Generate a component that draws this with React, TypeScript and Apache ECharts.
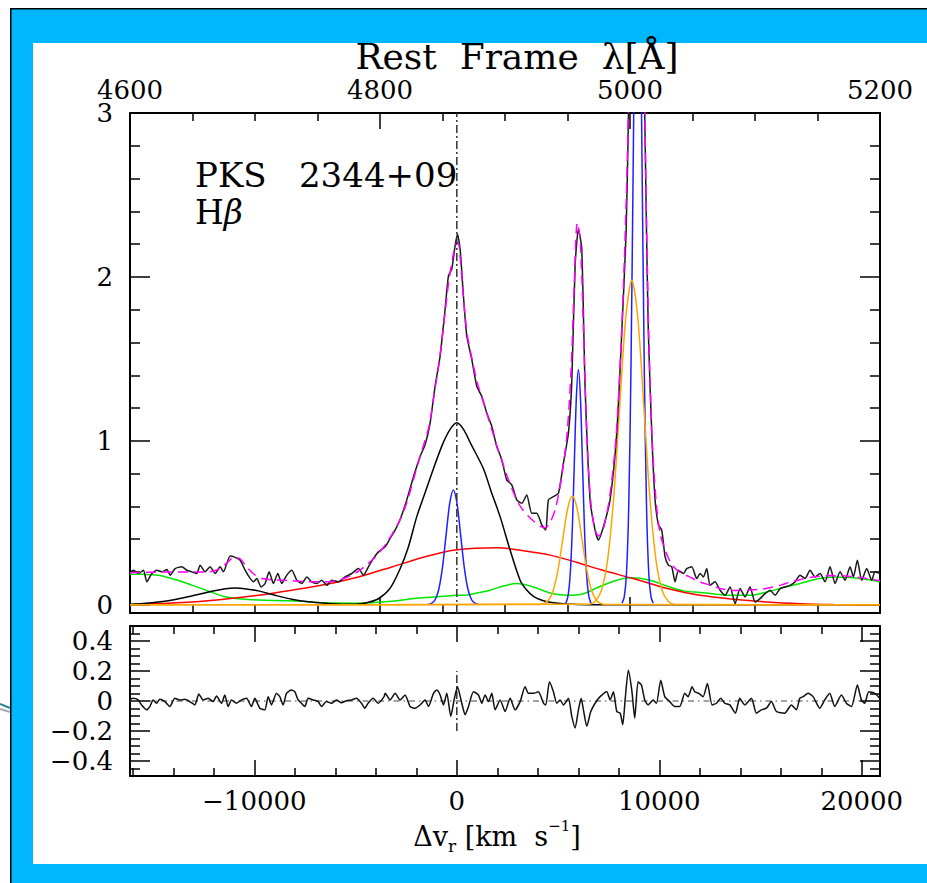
import React, { useEffect, useRef } from "react";
import * as echarts from "echarts";

const FONT = '"DejaVu Serif", serif';
const CYAN = "#00b6fd";

// axis ranges
const V_MIN = -16140;
const V_MAX = 20900;
const W_MIN = 4600;
const W_MAX = 5200;
const F_MIN = -0.05;
const F_MAX = 3;
const R_MIN = -0.5;
const R_MAX = 0.5;

// tick values
const waveMajor = [4600, 4800, 5000, 5200];
const waveMinor = [4650, 4700, 4750, 4850, 4900, 4950, 5050, 5100, 5150];
const fluxMajor = [0, 1, 2, 3];
const fluxMinor = [0.2, 0.4, 0.6, 0.8, 1.2, 1.4, 1.6, 1.8, 2.2, 2.4, 2.6, 2.8];
const velMajor = [-10000, 0, 10000, 20000];
const velMinor = [-16000, -14000, -12000, -8000, -6000, -4000, -2000, 2000, 4000, 6000, 8000, 12000, 14000, 16000, 18000];
const resMajor = [-0.4, -0.2, 0, 0.2, 0.4];
const resMinor = [-0.45, -0.35, -0.3, -0.25, -0.15, -0.1, -0.05, 0.05, 0.1, 0.15, 0.25, 0.3, 0.35, 0.45];

// observed spectrum [velocity km/s, flux]
const spectrum = [
  [-16140, 0.2], [-15969, 0.211], [-15722, 0.191], [-15475, 0.211], [-15310, 0.14], [-15063, 0.191], [-14816, 0.211],
  [-14569, 0.201], [-14323, 0.215], [-14158, 0.181], [-13911, 0.221], [-13582, 0.232], [-13335, 0.211], [-13088, 0.201],
  [-12841, 0.191], [-12677, 0.242], [-12430, 0.201], [-12183, 0.232], [-11936, 0.191], [-11689, 0.232], [-11524, 0.201],
  [-11359, 0.252], [-11195, 0.297], [-10948, 0.289], [-10701, 0.272], [-10454, 0.211], [-10257, 0.17], [-10043, 0.14],
  [-9878, 0.16], [-9664, 0.109], [-9467, 0.13], [-9269, 0.201], [-9055, 0.13], [-8841, 0.191], [-8644, 0.13],
  [-8397, 0.181], [-8150, 0.211], [-7903, 0.15], [-7656, 0.13], [-7409, 0.17], [-7162, 0.14], [-6915, 0.13],
  [-6668, 0.15], [-6421, 0.119], [-6174, 0.15], [-5845, 0.14], [-5516, 0.17], [-5187, 0.191], [-4858, 0.221],
  [-4611, 0.181], [-4364, 0.232], [-4117, 0.283], [-3870, 0.323], [-3539, 0.354], [-3294, 0.405], [-3047, 0.456],
  [-2800, 0.52], [-2471, 0.64], [-2142, 0.78], [-1812, 0.905], [-1565, 0.977], [-1319, 1.109], [-1072, 1.333],
  [-825, 1.517], [-578, 1.803], [-413, 2.007], [-249, 2.048], [-84, 2.191], [31, 2.262], [163, 2.17], [327, 1.884],
  [492, 1.64], [739, 1.497], [986, 1.333], [1233, 1.272], [1480, 1.17], [1727, 1.089], [1973, 0.966], [2220, 0.885],
  [2467, 0.762], [2714, 0.732], [2961, 0.64], [3208, 0.619], [3455, 0.67], [3702, 0.558], [3949, 0.558], [4196, 0.487],
  [4393, 0.456], [4525, 0.64], [4772, 0.66], [5019, 0.68], [5266, 0.864], [5513, 1.048], [5677, 1.354], [5842, 2.068],
  [6006, 2.293], [6171, 2.17], [6335, 1.333], [6582, 0.64], [6829, 0.456], [6994, 0.395], [7241, 0.476], [7570, 0.64],
  [7899, 1.048], [8146, 1.66], [8360, 2.27], [8480, 3.0], [8600, 4.2], [8850, 5.5], [9100, 4.2], [9280, 3.0],
  [9370, 2.27], [9460, 1.66], [9627, 1.048], [9792, 0.64], [9957, 0.487], [10121, 0.456], [10286, 0.293], [10451, 0.242],
  [10615, 0.232], [10780, 0.14], [10944, 0.211], [11191, 0.191], [11356, 0.221], [11603, 0.232], [11849, 0.16],
  [12014, 0.191], [12179, 0.17], [12344, 0.221], [12508, 0.119], [12755, 0.14], [13002, 0.089], [13249, 0.058],
  [13496, 0.109], [13743, 0.007], [13989, 0.099], [14236, 0.048], [14483, 0.109], [14730, 0.017], [14977, 0.038],
  [15224, 0.068], [15471, 0.089], [15718, 0.058], [15965, 0.099], [16212, 0.109], [16459, 0.119], [16705, 0.14],
  [16952, 0.181], [17199, 0.16], [17446, 0.211], [17693, 0.17], [17940, 0.191], [18187, 0.14], [18434, 0.232],
  [18681, 0.13], [18927, 0.201], [19174, 0.15], [19421, 0.232], [19586, 0.17], [19783, 0.272], [19997, 0.15],
  [20244, 0.221], [20491, 0.15], [20656, 0.201], [20900, 0.191],
];

// total model fit (magenta dashed)
const modelFit = [
  [-16140, 0.195], [-15000, 0.199], [-14000, 0.2], [-13000, 0.2], [-12300, 0.2], [-11800, 0.215], [-11400, 0.25],
  [-11000, 0.29], [-10700, 0.28], [-10400, 0.235], [-10000, 0.185], [-9600, 0.16], [-9000, 0.152], [-8300, 0.148],
  [-7500, 0.142], [-6800, 0.14], [-6200, 0.142], [-5700, 0.155], [-5200, 0.18], [-4800, 0.21], [-4400, 0.25],
  [-4000, 0.295], [-3600, 0.355], [-3200, 0.43], [-2800, 0.52], [-2450, 0.63], [-2150, 0.76], [-1850, 0.89],
  [-1600, 0.99], [-1350, 1.1], [-1100, 1.3], [-850, 1.5], [-600, 1.76], [-400, 1.97], [-200, 2.12], [-50, 2.2],
  [60, 2.21], [180, 2.1], [330, 1.87], [500, 1.66], [750, 1.5], [1000, 1.36], [1250, 1.26], [1500, 1.16], [1750, 1.06],
  [2000, 0.96], [2250, 0.87], [2500, 0.78], [2750, 0.7], [3000, 0.63], [3250, 0.58], [3500, 0.545], [3800, 0.51],
  [4100, 0.48], [4350, 0.47], [4600, 0.5], [4900, 0.6], [5200, 0.8], [5450, 1.05], [5650, 1.45], [5800, 1.95],
  [5950, 2.33], [6100, 2.22], [6250, 1.7], [6420, 1.05], [6600, 0.65], [6800, 0.47], [7000, 0.42], [7250, 0.47],
  [7550, 0.66], [7850, 1.0], [8100, 1.55], [8300, 2.2], [8470, 3.0], [8650, 4.6], [8900, 6.0], [9150, 4.4],
  [9290, 3.0], [9380, 2.25], [9500, 1.55], [9650, 1.0], [9850, 0.62], [10050, 0.43], [10300, 0.33], [10600, 0.25],
  [11000, 0.2], [11500, 0.17], [12000, 0.14], [12500, 0.12], [13000, 0.1], [13500, 0.09], [14000, 0.088],
  [14500, 0.09], [15000, 0.095], [15500, 0.105], [16000, 0.12], [16500, 0.14], [17000, 0.155], [17500, 0.168],
  [18000, 0.175], [18500, 0.178], [19000, 0.177], [19500, 0.172], [20000, 0.165], [20500, 0.155], [20900, 0.148],
];

// FeII template (green)
const feii = [
  [-16140, 0.187], [-15500, 0.186], [-14735, 0.18], [-13910, 0.154], [-13086, 0.12], [-12266, 0.083], [-11441, 0.049],
  [-10617, 0.035], [-9797, 0.029], [-8148, 0.024], [-6503, 0.012], [-4859, 0.01], [-3210, 0.022], [-2000, 0.04],
  [-800, 0.05], [0, 0.058], [492, 0.06], [1000, 0.072], [1644, 0.089], [2138, 0.109], [2961, 0.13], [3784, 0.109],
  [4607, 0.072], [5430, 0.058], [6253, 0.068], [7076, 0.112], [7899, 0.15], [8600, 0.165], [9545, 0.15],
  [10368, 0.115], [11191, 0.085], [12014, 0.075], [12800, 0.065], [13659, 0.058], [14483, 0.058], [15307, 0.078],
  [16130, 0.105], [16953, 0.13], [17800, 0.158], [18597, 0.17], [19400, 0.166], [20241, 0.154], [20900, 0.14],
];

// very broad component (red)
const veryBroad = [
  [-16140, 0.0], [-14600, 0.008], [-13086, 0.017], [-11400, 0.035], [-9797, 0.058], [-8148, 0.089], [-6503, 0.124],
  [-4859, 0.17], [-3210, 0.231], [-1565, 0.293], [-84, 0.334], [1975, 0.348], [3300, 0.33], [4607, 0.303],
  [5900, 0.26], [7076, 0.215], [8706, 0.16], [9546, 0.13], [10385, 0.099], [12014, 0.058], [13644, 0.034],
  [15323, 0.017], [16953, 0.007], [18600, 0.002], [20256, 0.0], [20900, 0.0],
];

// broad components (black)
const heiiBroad = [
  [-16140, 0.004], [-15500, 0.008], [-14734, 0.017], [-13900, 0.033], [-13088, 0.054], [-12100, 0.083],
  [-11500, 0.097], [-10948, 0.103], [-10400, 0.097], [-9796, 0.085], [-8973, 0.058], [-8150, 0.034],
  [-7327, 0.018], [-6504, 0.009], [-5680, 0.004],
];
const hbBroad = [
  [-5680, 0.004], [-5000, 0.004], [-4500, 0.011], [-3870, 0.037], [-3300, 0.1], [-2800, 0.22], [-2400, 0.35],
  [-1977, 0.538], [-1550, 0.69], [-1154, 0.83], [-700, 0.98], [-331, 1.07], [0, 1.11], [330, 1.07], [700, 0.98],
  [1315, 0.83], [1700, 0.69], [2138, 0.538], [2632, 0.334], [3126, 0.15], [3450, 0.09], [3784, 0.052],
  [4200, 0.028], [4607, 0.015], [5430, 0.005], [6500, 0.001], [20900, 0.0],
];

// narrow components (blue)
const hbNarrow = [
  [-1430, 0.0015], [-1250, 0.008], [-1070, 0.031], [-890, 0.095], [-710, 0.227], [-530, 0.425], [-350, 0.618],
  [-170, 0.7], [10, 0.618], [190, 0.425], [370, 0.227], [550, 0.095], [730, 0.031], [910, 0.008], [1090, 0.0015],
];
const oiiiNarrow4959 = [
  [5305, 0.003], [5405, 0.016], [5505, 0.063], [5605, 0.194], [5705, 0.466], [5805, 0.871], [5905, 1.267],
  [6005, 1.436], [6105, 1.267], [6205, 0.871], [6305, 0.466], [6405, 0.194], [6505, 0.063], [6605, 0.016], [6705, 0.003],
];
const oiiiNarrow5007 = [
  [8160, 0.01], [8270, 0.049], [8380, 0.193], [8490, 0.595], [8600, 1.429], [8710, 2.669], [8820, 3.883],
  [8930, 4.4], [9040, 3.883], [9150, 2.669], [9260, 1.429], [9370, 0.595], [9480, 0.193], [9590, 0.049], [9700, 0.01],
];

// blueshifted [OIII] components (orange)
const oiiiBlue4959 = [
  [4063, 0.0015], [4298, 0.007], [4533, 0.029], [4768, 0.09], [5003, 0.216], [5238, 0.403], [5473, 0.586],
  [5708, 0.664], [5943, 0.586], [6178, 0.403], [6413, 0.216], [6648, 0.09], [6883, 0.029], [7118, 0.007], [7353, 0.0015],
];
const oiiiBlue5007 = [
  [6541, 0.004], [6841, 0.022], [7141, 0.087], [7441, 0.268], [7741, 0.643], [8041, 1.201], [8341, 1.747],
  [8641, 1.98], [8941, 1.747], [9241, 1.201], [9541, 0.643], [9841, 0.268], [10141, 0.087], [10441, 0.022], [10741, 0.004],
];

// residuals (lower panel)
const residuals = [
  [-16140, 0.01], [-15984, 0.018], [-15737, 0.007], [-15573, -0.026], [-15326, -0.059], [-15161, -0.037],
  [-14996, 0.007], [-14832, -0.015], [-14667, 0.011], [-14420, -0.004], [-14174, -0.037], [-13927, 0.018],
  [-13680, 0.007], [-13433, 0.011], [-13186, -0.004], [-12939, -0.026], [-12741, 0.046], [-12527, 0.007],
  [-12281, 0.018], [-12034, -0.004], [-11869, 0.033], [-11622, -0.015], [-11458, 0.04], [-11293, -0.037],
  [-11128, 0.007], [-10881, -0.015], [-10635, 0.007], [-10388, 0.018], [-10141, -0.037], [-9976, 0.018],
  [-9729, -0.048], [-9482, -0.059], [-9318, 0.029], [-9153, -0.026], [-8906, 0.051], [-8741, 0.029],
  [-8577, -0.026], [-8412, 0.051], [-8165, 0.073], [-8001, 0.062], [-7836, 0.007], [-7672, -0.015],
  [-7507, -0.037], [-7342, 0.018], [-7095, 0.007], [-6849, -0.004], [-6684, -0.037], [-6437, -0.004],
  [-6190, -0.015], [-5944, 0.007], [-5697, -0.011], [-5450, 0.002], [-5203, 0.007], [-4956, 0.018],
  [-4709, -0.015], [-4545, -0.048], [-4380, -0.015], [-4133, 0.018], [-3886, -0.015], [-3590, 0.029],
  [-3540, 0.051], [-3293, 0.007], [-3046, 0.051], [-2799, 0.007], [-2553, 0.04], [-2306, -0.037],
  [-2059, -0.048], [-1812, -0.026], [-1565, 0.007], [-1400, -0.037], [-1154, 0.051], [-989, 0.073],
  [-824, 0.04], [-660, -0.026], [-495, 0.051], [-297, -0.103], [-133, 0.007], [32, 0.095], [246, -0.015],
  [410, -0.092], [575, -0.037], [822, 0.062], [1069, 0.04], [1233, -0.015], [1398, 0.04], [1562, -0.004],
  [1727, 0.051], [1892, -0.059], [2139, 0.007], [2386, -0.07], [2633, 0.018], [2879, -0.059], [3126, -0.004],
  [3373, 0.095], [3538, 0.051], [3785, 0.051], [4032, 0.062], [4278, -0.015], [4394, -0.026], [4575, 0.128],
  [4772, 0.062], [4937, -0.015], [5102, 0.007], [5266, -0.026], [5513, 0.018], [5678, -0.103], [5843, -0.18],
  [6007, -0.059], [6139, 0.018], [6254, -0.059], [6418, -0.169], [6616, -0.07], [6830, -0.015], [7077, 0.029],
  [7406, 0.062], [7571, 0.007], [7735, 0.062], [7900, -0.07], [8065, -0.081], [8196, -0.158], [8312, 0.007],
  [8470, 0.205], [8641, 0.073], [8788, -0.114], [8953, 0.128], [9117, 0.106], [9282, 0.007], [9447, -0.026],
  [9694, 0.007], [9858, -0.015], [10072, 0.139], [10270, 0.029], [10517, -0.004], [10763, -0.037], [11010, -0.037],
  [11257, 0.051], [11422, 0.029], [11619, 0.095], [11751, 0.062], [11949, 0.051], [12163, 0.029], [12377, 0.117],
  [12607, -0.026], [12821, -0.015], [13035, 0.018], [13232, -0.015], [13479, -0.026], [13759, -0.081],
  [13973, 0.018], [14220, -0.026], [14549, 0.018], [14796, -0.081], [15043, -0.059], [15290, -0.048],
  [15537, -0.004], [15784, -0.07], [16195, -0.081], [16525, -0.026], [16772, -0.059], [16937, 0.018],
  [17101, 0.029], [17348, 0.051], [17595, 0.029], [17924, -0.048], [18170, 0.007], [18417, 0.051],
  [18664, -0.037], [18993, 0.04], [19240, -0.015], [19487, -0.037], [19783, 0.106], [19981, 0.007],
  [20145, -0.015], [20343, 0.062], [20639, 0.051], [20886, 0.018],
];

const LINE = { color: "#000", width: 2 };
const TICK = { color: "#000", width: 1.5 };
const LABEL = { fontSize: 26, fontFamily: FONT, color: "#000" };

function axis(extra: any) {
  return {
    type: "value",
    splitLine: { show: false },
    axisLine: { show: false, onZero: false },
    axisLabel: { show: false },
    axisTick: { show: false },
    ...extra,
  };
}

function ticks(values: number[], length: number) {
  return { show: true, inside: true, length, customValues: values, lineStyle: TICK };
}

const frameLine = { show: true, onZero: false, lineStyle: LINE };

const fmtPlain = (v: number) => String(v);
const fmtVel = (v: number) => (v < 0 ? "\u2212" + String(-v) : String(v));
const fmtRes = (v: number) => (Math.abs(v) < 1e-9 ? "0" : v < 0 ? "\u2212" + (-v).toFixed(1) : v.toFixed(1));

function lineSeries(data: number[][], color: string, xi: number, yi: number, extra: any = {}) {
  return {
    type: "line",
    xAxisIndex: xi,
    yAxisIndex: yi,
    data,
    showSymbol: false,
    symbol: "none",
    smooth: 0.3,
    clip: true,
    silent: true,
    lineStyle: { color, width: 1.5 },
    ...extra,
  };
}

const withBase = (arr: number[][]) => [[V_MIN, 0], ...arr, [V_MAX, 0]];

export default function App() {
  const ref = useRef<HTMLDivElement>(null);

  useEffect(() => {
    if (!ref.current) return;
    const chart = echarts.init(ref.current, null, { renderer: "svg" });
    const option: any = {
      animation: false,
      backgroundColor: "#ffffff",
      grid: [
        { left: 130, top: 113, width: 750, height: 500 },
        { left: 130, top: 626, width: 750, height: 150 },
      ],
      xAxis: [
        axis({ gridIndex: 0, min: V_MIN, max: V_MAX, show: false }),
        axis({
          gridIndex: 0, position: "top", min: W_MIN, max: W_MAX, axisLine: frameLine,
          axisTick: ticks(waveMajor, 16),
          axisLabel: {
            show: true, customValues: waveMajor, margin: 13, formatter: fmtPlain, lineHeight: 20,
            showMinLabel: true, showMaxLabel: true, ...LABEL,
          },
        }),
        axis({ gridIndex: 0, position: "top", min: W_MIN, max: W_MAX, axisTick: ticks(waveMinor, 8) }),
        axis({ gridIndex: 0, position: "bottom", min: W_MIN, max: W_MAX, axisLine: frameLine, axisTick: ticks(waveMajor, 16) }),
        axis({ gridIndex: 0, position: "bottom", min: W_MIN, max: W_MAX, axisTick: ticks(waveMinor, 8) }),
        axis({
          gridIndex: 1, position: "bottom", min: V_MIN, max: V_MAX, axisLine: frameLine,
          axisTick: ticks(velMajor, 16),
          axisLabel: { show: true, customValues: velMajor, margin: 12, formatter: fmtVel, ...LABEL },
        }),
        axis({ gridIndex: 1, position: "bottom", min: V_MIN, max: V_MAX, axisTick: ticks(velMinor, 8) }),
        axis({ gridIndex: 1, position: "top", min: V_MIN, max: V_MAX, axisLine: frameLine, axisTick: ticks(velMajor, 16) }),
        axis({ gridIndex: 1, position: "top", min: V_MIN, max: V_MAX, axisTick: ticks(velMinor, 8) }),
      ],
      yAxis: [
        axis({
          gridIndex: 0, position: "left", min: F_MIN, max: F_MAX, axisLine: frameLine,
          axisTick: ticks(fluxMajor, 20),
          axisLabel: {
            show: true, customValues: fluxMajor, margin: 17, formatter: fmtPlain, lineHeight: 18,
            showMinLabel: true, showMaxLabel: true, ...LABEL,
          },
        }),
        axis({ gridIndex: 0, position: "left", min: F_MIN, max: F_MAX, axisTick: ticks(fluxMinor, 10) }),
        axis({ gridIndex: 0, position: "right", min: F_MIN, max: F_MAX, axisLine: frameLine, axisTick: ticks(fluxMajor, 20) }),
        axis({ gridIndex: 0, position: "right", min: F_MIN, max: F_MAX, axisTick: ticks(fluxMinor, 10) }),
        axis({
          gridIndex: 1, position: "left", min: R_MIN, max: R_MAX, axisLine: frameLine,
          axisTick: ticks(resMajor, 20),
          axisLabel: { show: true, customValues: resMajor, margin: 17, formatter: fmtRes, lineHeight: 22, ...LABEL },
        }),
        axis({ gridIndex: 1, position: "left", min: R_MIN, max: R_MAX, axisTick: ticks(resMinor, 10) }),
        axis({ gridIndex: 1, position: "right", min: R_MIN, max: R_MAX, axisLine: frameLine, axisTick: ticks(resMajor, 20) }),
        axis({ gridIndex: 1, position: "right", min: R_MIN, max: R_MAX, axisTick: ticks(resMinor, 10) }),
      ],
      series: [
        lineSeries(feii, "#00e600", 0, 0),
        lineSeries(veryBroad, "#ff0000", 0, 0),
        lineSeries(heiiBroad, "#000000", 0, 0),
        lineSeries(hbBroad, "#000000", 0, 0),
        lineSeries(hbNarrow, "#1f1fff", 0, 0),
        lineSeries(oiiiNarrow4959, "#1f1fff", 0, 0),
        lineSeries(oiiiNarrow5007, "#1f1fff", 0, 0),
        lineSeries(withBase(oiiiBlue4959), "#ffa500", 0, 0),
        lineSeries(withBase(oiiiBlue5007), "#ffa500", 0, 0),
        lineSeries(spectrum, "#1a1a1a", 0, 0, { smooth: 0.2 }),
        lineSeries(modelFit, "#ff00ff", 0, 0, { lineStyle: { color: "#ff00ff", width: 1.5, type: [10, 6] } }),
        lineSeries([[0, F_MIN], [0, F_MAX]], "#333", 0, 0, {
          smooth: false, lineStyle: { color: "#333", width: 1.5, type: [8, 3, 2, 3] },
        }),
        lineSeries([[V_MIN, 0], [V_MAX, 0]], "#444", 5, 4, {
          smooth: false, lineStyle: { color: "#444", width: 1, type: [6, 4, 1.5, 4] },
        }),
        lineSeries([[0, -0.2], [0, 0.2]], "#333", 5, 4, {
          smooth: false, lineStyle: { color: "#333", width: 1.5, type: [8, 3, 2, 3] },
        }),
        lineSeries(residuals, "#111", 5, 4, { smooth: 0.2 }),
      ],
      graphic: [
        // slide frame
        { type: "rect", z: -100, silent: true, shape: { x: 10, y: 8, width: 930, height: 890 }, style: { fill: CYAN } },
        { type: "rect", z: -99, silent: true, shape: { x: 33, y: 43, width: 910, height: 821 }, style: { fill: "#ffffff" } },
        { type: "line", z: -98, silent: true, shape: { x1: 10.75, y1: 8, x2: 10.75, y2: 883 }, style: { stroke: "#000", lineWidth: 1.5 } },
        { type: "line", z: -98, silent: true, shape: { x1: 10, y1: 8.75, x2: 927, y2: 8.75 }, style: { stroke: "#000", lineWidth: 1.5 } },
        { type: "line", silent: true, shape: { x1: 0, y1: 704, x2: 10, y2: 708 }, style: { stroke: "#2a8596", lineWidth: 2 } },
        { type: "line", silent: true, shape: { x1: 0, y1: 709, x2: 10, y2: 712 }, style: { stroke: "#a9a9a9", lineWidth: 2 } },
        {
          type: "text", x: 517, y: 56,
          style: {
            text: "Rest  Frame  \u03bb[\u00c5]", fontSize: 36, fontFamily: FONT, fill: "#000",
            align: "center", verticalAlign: "middle", lineHeight: 30,
          },
        },
        {
          type: "text", x: 195, y: 175,
          style: {
            text: "PKS   2344+09", fontSize: 34, fontFamily: FONT, fill: "#000",
            align: "left", verticalAlign: "middle", lineHeight: 30,
          },
        },
        {
          type: "text", x: 195, y: 212,
          style: {
            text: "{a|H}{b|\u03b2}", align: "left", verticalAlign: "middle",
            rich: {
              a: { fontSize: 33, fontFamily: FONT, fill: "#000", lineHeight: 30 },
              b: { fontSize: 33, fontFamily: FONT, fill: "#000", fontStyle: "italic", lineHeight: 30 },
            },
          },
        },
        {
          type: "text", x: 497, y: 836,
          style: {
            text: "{m|\u0394v}{s|r}{m| [km  s}{p|\u22121}{m|]}", align: "center", verticalAlign: "middle",
            rich: {
              m: { fontSize: 27, fontFamily: FONT, fill: "#000", lineHeight: 36 },
              s: { fontSize: 17, fontFamily: FONT, fill: "#000", lineHeight: 18, verticalAlign: "bottom" },
              p: { fontSize: 15, fontFamily: FONT, fill: "#000", lineHeight: 20, verticalAlign: "top" },
            },
          },
        },
      ],
    };
    chart.setOption(option);
    return () => chart.dispose();
  }, []);

  return (
    <div style={{ position: "fixed", left: 0, top: 0, width: 927, height: 883, background: "#fff", overflow: "hidden" }}>
      <div ref={ref} style={{ position: "absolute", left: 0, top: 0, width: 927, height: 883 }} />
    </div>
  );
}
